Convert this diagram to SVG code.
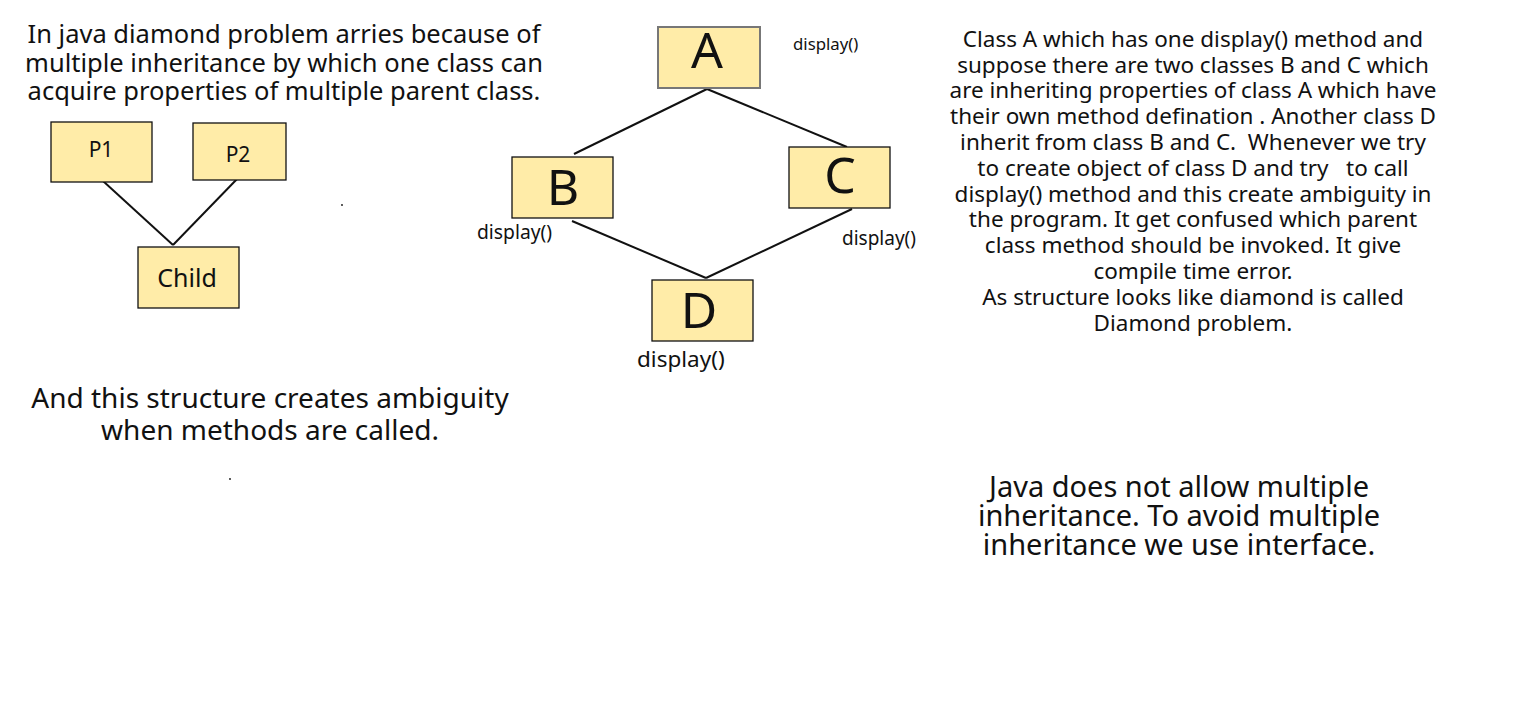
<svg xmlns="http://www.w3.org/2000/svg" width="1536" height="714" viewBox="0 0 1536 714">
<style>
text{font-family:"Noto Sans",Lato,sans-serif;fill:#111;white-space:pre}
.box{fill:#ffeca8;stroke:#111;stroke-width:1.3}
.c{text-anchor:middle}
.big{font-size:50px}
.edge{stroke:#111;stroke-width:2;fill:none}
.p{font-size:25.5px}
.r{font-size:22.5px}
.b{font-size:28px}
.b2{font-size:29px}
</style>
<rect width="1536" height="714" fill="#fff"/>
<g id="intro">
<text class="c p" x="284" y="43">In java diamond problem arries because of</text>
<text class="c p" x="284" y="72">multiple inheritance by which one class can</text>
<text class="c p" x="284" y="100">acquire properties of multiple parent class.</text>
</g>
<g id="connectors">
<line class="edge" x1="103" y1="181" x2="173" y2="245"/>
<line class="edge" x1="238" y1="178" x2="173" y2="245"/>
<line class="edge" x1="707" y1="89" x2="574" y2="154"/>
<line class="edge" x1="707" y1="89" x2="847" y2="147"/>
<line class="edge" x1="572" y1="221" x2="706" y2="278"/>
<line class="edge" x1="852" y1="209" x2="706" y2="278"/>
</g>
<g id="P1"><rect class="box" x="51" y="122" width="101" height="60"/><text class="c" x="101" y="157" style="font-size:21px">P1</text></g>
<g id="P2"><rect class="box" x="193" y="123" width="93" height="57"/><text class="c" x="238" y="162" style="font-size:21px">P2</text></g>
<g id="Child"><rect class="box" x="138" y="247" width="101" height="61"/><text class="c" x="187" y="287" style="font-size:25px">Child</text></g>
<g id="A"><rect class="box" x="658" y="27" width="102" height="61" style="stroke:#777;stroke-width:2"/><text class="c big" x="707" y="68">A</text></g>
<g id="B"><rect class="box" x="512" y="157" width="101" height="61"/><text class="c big" x="563" y="205">B</text></g>
<g id="C"><rect class="box" x="789" y="147" width="101" height="61"/><text class="c big" x="840" y="193">C</text></g>
<g id="D"><rect class="box" x="652" y="280" width="101" height="61"/><text class="c big" x="699" y="328">D</text></g>
<text x="793" y="50" style="font-size:16.8px">display()</text>
<text x="477" y="239" style="font-size:19.3px">display()</text>
<text x="842" y="245" style="font-size:19px">display()</text>
<text x="637" y="367" style="font-size:22.5px">display()</text>
<circle cx="342" cy="205" r="0.9" fill="#111"/>
<circle cx="230" cy="479" r="0.9" fill="#111"/>
<g id="explanation">
<text class="c r" x="1193" y="47">Class A which has one display() method and</text>
<text class="c r" x="1193" y="73">suppose there are two classes B and C which</text>
<text class="c r" x="1193" y="98">are inheriting properties of class A which have</text>
<text class="c r" x="1193" y="124">their own method defination . Another class D</text>
<text class="c r" x="1193" y="150">inherit from class B and C.  Whenever we try</text>
<text class="c r" x="1193" y="176">to create object of class D and try   to call</text>
<text class="c r" x="1193" y="202">display() method and this create ambiguity in</text>
<text class="c r" x="1193" y="227">the program. It get confused which parent</text>
<text class="c r" x="1193" y="253">class method should be invoked. It give</text>
<text class="c r" x="1193" y="279">compile time error.</text>
<text class="c r" x="1193" y="305">As structure looks like diamond is called</text>
<text class="c r" x="1193" y="331">Diamond problem.</text>
</g>
<g id="ambiguity">
<text class="c b" x="270" y="408">And this structure creates ambiguity</text>
<text class="c b" x="270" y="440">when methods are called.</text>
</g>
<g id="conclusion">
<text class="c b2" x="1179" y="497">Java does not allow multiple</text>
<text class="c b2" x="1179" y="526">inheritance. To avoid multiple</text>
<text class="c b2" x="1179" y="555">inheritance we use interface.</text>
</g>
</svg>
